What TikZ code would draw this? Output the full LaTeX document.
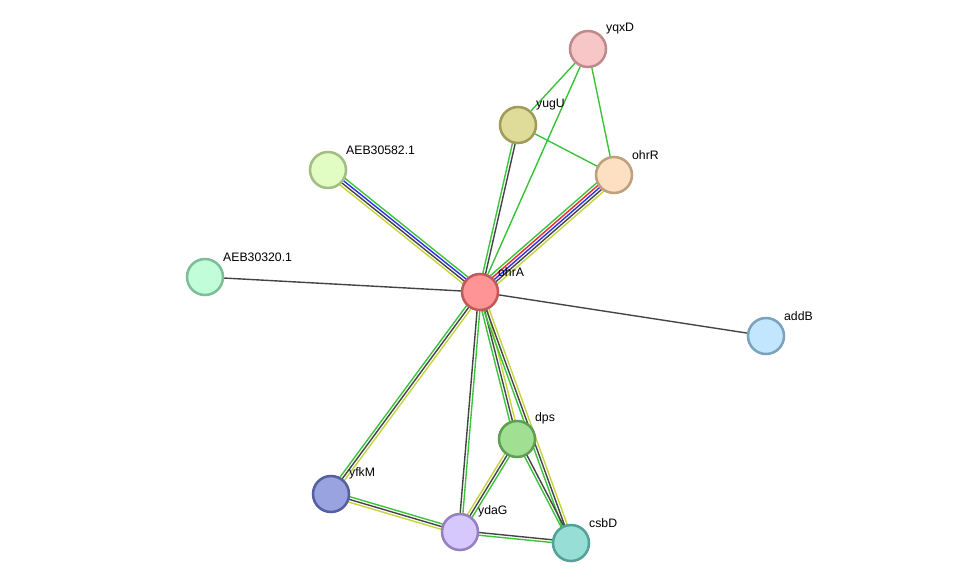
\documentclass[tikz,border=0pt]{standalone}
\usepackage{fontspec}
\setsansfont{Liberation Sans}
\usepackage{tikz}
\usetikzlibrary{calc,backgrounds}
\definecolor{evGreen}{HTML}{3BC43B}
\definecolor{evRed}{HTML}{EE2B2B}
\definecolor{evBlue}{HTML}{2F2FEE}
\definecolor{evBlack}{HTML}{444444}
\definecolor{evYellow}{HTML}{C4D43E}
% node colours: border / fill
\definecolor{yqxDLine}{HTML}{BF8A8C}\definecolor{yqxDFill}{HTML}{F7C7C8}
\definecolor{yugULine}{HTML}{9F9C5A}\definecolor{yugUFill}{HTML}{DFDC9A}
\definecolor{ohrRLine}{HTML}{BE9F7E}\definecolor{ohrRFill}{HTML}{FDDFC2}
\definecolor{aebaLine}{HTML}{A2BE82}\definecolor{aebaFill}{HTML}{E2FDC3}
\definecolor{aebbLine}{HTML}{7DBE98}\definecolor{aebbFill}{HTML}{C2FDDA}
\definecolor{ohrALine}{HTML}{C0595A}\definecolor{ohrAFill}{HTML}{FF9494}
\definecolor{addBLine}{HTML}{7CA3BE}\definecolor{addBFill}{HTML}{C2E6FD}
\definecolor{dpsLine}{HTML}{5E9F55}\definecolor{dpsFill}{HTML}{A1DF92}
\definecolor{yfkMLine}{HTML}{5660A0}\definecolor{yfkMFill}{HTML}{98A3DF}
\definecolor{ydaGLine}{HTML}{9680BF}\definecolor{ydaGFill}{HTML}{D6C7FD}
\definecolor{csbDLine}{HTML}{53A198}\definecolor{csbDFill}{HTML}{97DFD6}
\newcommand{\edgegap}{2.05}
% #1 from, #2 to, #3 number of lines, #4 colours (left side of #1->#2 first)
\newcommand{\bundle}[4]{%
  \foreach \col [count=\k] in {#4} {
    \pgfmathsetmacro{\off}{((#3+1)/2-\k)*\edgegap}
    \draw[evedge,\col] ($(#1.center)!\off pt!90:(#2.center)$) -- ($(#2.center)!\off pt!-90:(#1.center)$);
  }}

\begin{document}
\begin{tikzpicture}[x=0.75pt,y=-0.75pt,font=\sffamily]
  \tikzset{prot/.style={circle,draw=#1Line,fill=#1Fill,line width=1.9pt,minimum size=27pt,inner sep=0pt},
    lbl/.style={font=\sffamily\fontsize{9.2}{10}\selectfont,inner sep=1pt,label distance=0pt,xshift=2.2pt,yshift=0pt},
    evedge/.style={line width=1.05pt}}
  \useasboundingbox (0,0) rectangle (975,588);
  \node[prot=yqxD, label={[lbl]45:yqxD}] (yqxD) at (588,49) {};
  \node[prot=yugU, label={[lbl]45:yugU}] (yugU) at (518,125) {};
  \node[prot=ohrR, label={[lbl]45:ohrR}] (ohrR) at (614,175) {};
  \node[prot=aeba, label={[lbl]45:AEB30582.1}] (aeb582) at (328,170) {};
  \node[prot=aebb, label={[lbl]45:AEB30320.1}] (aeb320) at (205,277) {};
  \node[prot=ohrA, label={[lbl]45:ohrA}] (ohrA) at (480,292) {};
  \node[prot=addB, label={[lbl]45:addB}] (addB) at (766,336) {};
  \node[prot=dps, label={[lbl]45:dps}] (dps) at (517,439) {};
  \node[prot=yfkM, label={[lbl]45:yfkM}] (yfkM) at (331,494) {};
  \node[prot=ydaG, label={[lbl]45:ydaG}] (ydaG) at (460,532) {};
  \node[prot=csbD, label={[lbl]45:csbD}] (csbD) at (571,543) {};

  \begin{pgfonlayer}{background}
    \bundle{ohrA}{ohrR}{5}{evGreen,evRed,evBlue,evBlack,evYellow}
    \bundle{aeb582}{ohrA}{4}{evGreen,evBlue,evBlack,evYellow}
    \bundle{ohrA}{yugU}{2}{evGreen,evBlack}
    \bundle{yfkM}{ohrA}{3}{evGreen,evBlack,evYellow}
    \bundle{yfkM}{ydaG}{3}{evGreen,evBlack,evYellow}
    \bundle{ohrA}{ydaG}{2}{evGreen,evBlack}
    \bundle{ohrA}{dps}{3}{evYellow,evBlack,evGreen}
    \bundle{ohrA}{csbD}{3}{evYellow,evBlack,evGreen}
    \bundle{dps}{ydaG}{3}{evGreen,evBlack,evYellow}
    \bundle{dps}{csbD}{2}{evBlack,evGreen}
    \bundle{ydaG}{csbD}{2}{evBlack,evGreen}
    \draw[evedge,evBlack] (ohrA) -- (aeb320);
    \draw[evedge,evBlack] (ohrA) -- (addB);
    \draw[evedge,evGreen] (ohrA) -- (yqxD);
    \draw[evedge,evGreen] (yugU) -- (yqxD);
    \draw[evedge,evGreen] (yugU) -- (ohrR);
    \draw[evedge,evGreen] (yqxD) -- (ohrR);
  \end{pgfonlayer}
\end{tikzpicture}
\end{document}
